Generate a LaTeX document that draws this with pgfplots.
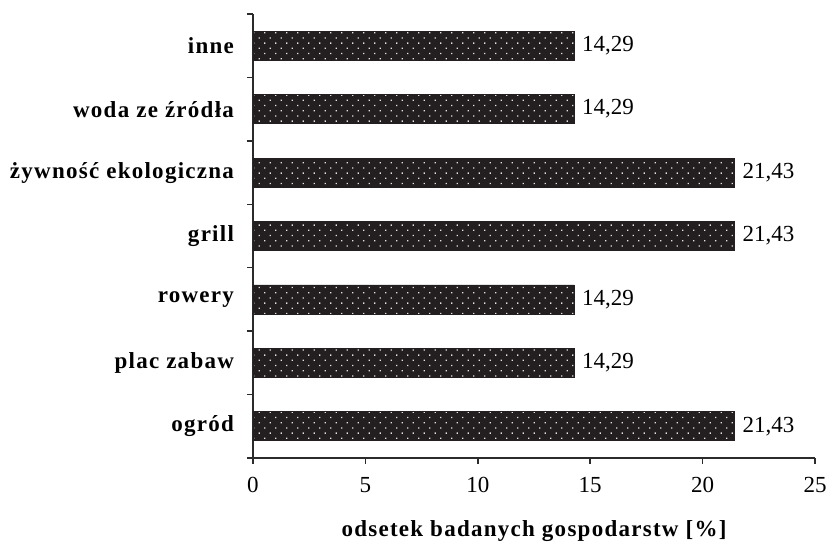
\documentclass[border=0pt]{standalone}
\usepackage{fontspec}
\setmainfont{Liberation Serif}
\newfontfamily\spacedfont[LetterSpace=5.5]{Liberation Serif}
\usepackage{pgfplots}
\pgfplotsset{compat=1.18}
\usetikzlibrary{patterns}
\definecolor{barcol}{HTML}{231F20}
\definecolor{axcol}{HTML}{2B2B2B}
\definecolor{dotcol}{HTML}{E4E4E4}
% staggered white dots on the dark bars
\pgfdeclarepatternformonly{bardots}{\pgfqpoint{-1pt}{-1pt}}{\pgfqpoint{6.5pt}{6.2pt}}{\pgfqpoint{5.5pt}{5.2pt}}{
  \pgfpathrectangle{\pgfqpoint{0pt}{0pt}}{\pgfqpoint{0.65pt}{0.65pt}}
  \pgfpathrectangle{\pgfqpoint{2.75pt}{2.6pt}}{\pgfqpoint{0.65pt}{0.65pt}}
  \pgfusepath{fill}}

\begin{document}
\begin{tikzpicture}
\begin{axis}[name=ax, scale only axis, width=281pt, height=222pt,
  xbar, bar width=14.5pt,
  xmin=0, xmax=25, ymin=-0.5, ymax=6.5,
  axis lines*=left,
  axis line style={axcol, line width=0.75pt},
  every tick/.style={axcol, line width=0.75pt},
  tick align=outside, major tick length=3pt, minor tick length=3pt,
  xtick={0,5,...,25},
  ytick={0,...,6},
  yticklabels={ogród, plac zabaw, rowery, grill, żywność ekologiczna, woda ze źródła, inne},
  minor ytick={-0.5,0.5,...,6.5},
  y tick style={draw=none},
  minor y tick style={draw=axcol, line width=0.75pt},
  /pgf/number format/assume math mode=true,
  tick label style={font=\fontsize{11.5}{13}\selectfont},
  yticklabel style={font=\spacedfont\bfseries\fontsize{11.5}{13}\selectfont, xshift=-3pt},
  xticklabel style={yshift=-3pt},
  xlabel={\spacedfont\bfseries\fontsize{11.5}{13}\selectfont odsetek badanych gospodarstw [\%]},
  xlabel style={yshift=-7pt},
  nodes near coords={\pgfmathprintnumber[fixed,precision=2,fixed zerofill,use comma]{\pgfplotspointmeta}},
  nodes near coords style={anchor=west, xshift=0.5pt, font=\fontsize{11.5}{13}\selectfont},
]
\addplot[fill=barcol, draw=barcol, line width=0.3pt,
  postaction={pattern=bardots, pattern color=dotcol}]
  coordinates {(21.43,0) (14.29,1) (14.29,2) (21.43,3) (21.43,4) (14.29,5) (14.29,6)};
\end{axis}
\pgfresetboundingbox
\useasboundingbox ([xshift=-126.5pt,yshift=-42.5pt]ax.south west) rectangle ([xshift=6.5pt,yshift=7pt]ax.north east);
\end{tikzpicture}
\end{document}
